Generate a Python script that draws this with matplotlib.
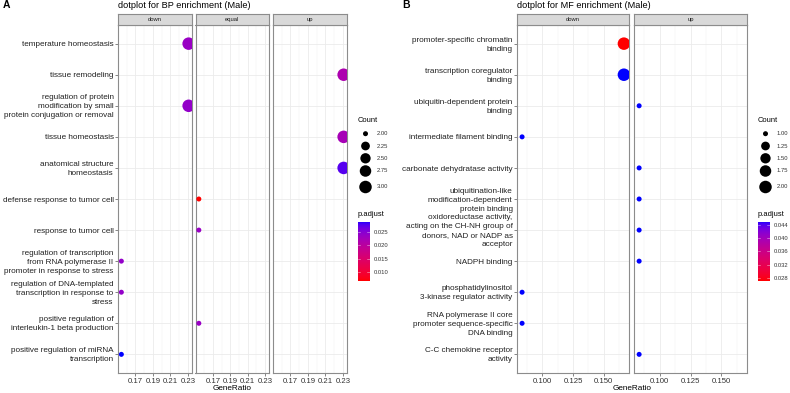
"""
Dot plots of GO enrichment (BP and MF, male) in facets by direction.
"""

import numpy as np
import matplotlib
matplotlib.use("Agg")
import matplotlib.pyplot as plt
from matplotlib.colors import ListedColormap, Normalize

plt.rcParams["font.family"] = ["Liberation Sans", "DejaVu Sans"]

# ---- data -------------------------------------------------------------
BP_TERMS = [
    "temperature homeostasis",
    "tissue remodeling",
    "regulation of protein\nmodification by small\nprotein conjugation or removal",
    "tissue homeostasis",
    "anatomical structure\nhomeostasis",
    "defense response to tumor cell",
    "response to tumor cell",
    "regulation of transcription\nfrom RNA polymerase II\npromoter in response to stress",
    "regulation of DNA-templated\ntranscription in response to\nstress",
    "positive regulation of\ninterleukin-1 beta production",
    "positive regulation of miRNA\ntranscription",
]
BP_GROUPS = ["down", "up", "down", "up", "up", "equal", "equal",
             "down", "down", "equal", "down"]
BP_COUNTS = [3, 3, 3, 3, 3, 2, 2, 2, 2, 2, 2]
BP_RATIOS = [3 / 13] * 5 + [2 / 13] * 6
BP_PADJ = [0.0235, 0.0215, 0.0240, 0.0222, 0.0275, 0.0066, 0.0235,
           0.0240, 0.0240, 0.0235, 0.0290]
BP_FACETS = ["down", "equal", "up"]
BP_XTICKS = [0.17, 0.19, 0.21, 0.23]
BP_XMINOR = [0.16, 0.18, 0.20, 0.22]
BP_CBAR_TICKS = [0.010, 0.015, 0.020, 0.025]

MF_TERMS = [
    "promoter-specific chromatin\nbinding",
    "transcription coregulator\nbinding",
    "ubiquitin-dependent protein\nbinding",
    "intermediate filament binding",
    "carbonate dehydratase activity",
    "ubiquitination-like\nmodification-dependent\nprotein binding",
    "oxidoreductase activity,\nacting on the CH-NH group of\ndonors, NAD or NADP as\nacceptor",
    "NADPH binding",
    "phosphatidylinositol\n3-kinase regulator activity",
    "RNA polymerase II core\npromoter sequence-specific\nDNA binding",
    "C-C chemokine receptor\nactivity",
]
MF_GROUPS = ["down", "down", "up", "down", "up", "up", "up", "up",
             "down", "down", "up"]
MF_COUNTS = [2, 2, 1, 1, 1, 1, 1, 1, 1, 1, 1]
MF_RATIOS = [c / 12 for c in MF_COUNTS]
MF_PADJ = [0.0270, 0.0451, 0.0451, 0.0451, 0.0451, 0.0451, 0.0451,
           0.0451, 0.0451, 0.0451, 0.0451]
MF_FACETS = ["down", "up"]
MF_XTICKS = [0.100, 0.125, 0.150]
MF_XMINOR = [0.0875, 0.1125, 0.1375, 0.1625]
MF_CBAR_TICKS = [0.028, 0.032, 0.036, 0.040, 0.044]

W, H = 790, 393
DPI = 100


def lab_red_blue(n=256):
    """ggplot-like red -> blue gradient interpolated in CIELAB."""
    white = np.array([0.95047, 1.0, 1.08883])
    m = np.array([[0.4124, 0.3576, 0.1805],
                  [0.2126, 0.7152, 0.0722],
                  [0.0193, 0.1192, 0.9505]])

    def to_lab(rgb):
        rgb = np.asarray(rgb, float)
        lin = np.where(rgb <= 0.04045, rgb / 12.92, ((rgb + 0.055) / 1.055) ** 2.4)
        t = (m @ lin) / white
        d = 6 / 29
        f = np.where(t > d ** 3, np.cbrt(t), t / (3 * d * d) + 4 / 29)
        return np.array([116 * f[1] - 16, 500 * (f[0] - f[1]), 200 * (f[1] - f[2])])

    def to_rgb(lab):
        d = 6 / 29
        fy = (lab[0] + 16) / 116
        f = np.array([fy + lab[1] / 500, fy, fy - lab[2] / 200])
        t = np.where(f > d, f ** 3, 3 * d * d * (f - 4 / 29)) * white
        lin = np.clip(np.linalg.solve(m, t), 0, 1)
        rgb = np.where(lin <= 0.0031308, 12.92 * lin, 1.055 * lin ** (1 / 2.4) - 0.055)
        return np.clip(rgb, 0, 1)

    lo, hi = to_lab([1, 0, 0]), to_lab([0, 0, 1])
    cols = [to_rgb(lo + (hi - lo) * s) for s in np.linspace(0, 1, n)]
    return ListedColormap(cols)


CMAP = lab_red_blue()


def box(x0, y0, x1, y1):
    return [x0 / W, 1 - y1 / H, (x1 - x0) / W, (y1 - y0) / H]


def dot_px(count, cmin, cmax):
    t = 0.0 if cmax == cmin else (count - cmin) / (cmax - cmin)
    return 5 + np.sqrt(t) * 7.5


def marker_area(d_px):
    return (d_px * 72 / DPI) ** 2


def draw_dotplot(fig, letter, title, panels, terms, groups, ratios, counts,
                 padj, facets, xticks, xminor, xfmt, legend_x, cbar_ticks):
    top, bottom, strip_top = 25, 373, 14
    n = len(terms)
    ratios = np.array(ratios)
    span = ratios.max() - ratios.min()
    xlim = (ratios.min() - 0.05 * span, ratios.max() + 0.05 * span)
    norm = Normalize(min(padj), max(padj))
    cmin, cmax = min(counts), max(counts)

    for i, (facet, (x0, x1)) in enumerate(zip(facets, panels)):
        ax = fig.add_axes(box(x0, top, x1, bottom))
        idx = [k for k, g in enumerate(groups) if g == facet]
        ax.scatter(ratios[idx], idx,
                   s=[marker_area(dot_px(counts[k], cmin, cmax)) for k in idx],
                   c=[padj[k] for k in idx], cmap=CMAP, norm=norm,
                   linewidths=0, zorder=3)
        ax.set_xlim(*xlim)
        ax.set_ylim(n - 0.4, -0.6)
        ax.set_xticks(xticks)
        ax.set_xticklabels([xfmt % t for t in xticks], fontsize=5.6,
                           color="#333333")
        ax.set_xticks(xminor, minor=True)
        ax.set_yticks(range(n))
        ax.tick_params(axis="x", which="major", length=2, width=0.5,
                       color="#555555", pad=1.5)
        ax.tick_params(axis="x", which="minor", length=0)
        ax.tick_params(axis="y", labelleft=False)
        if i == 0:
            ax.tick_params(axis="y", length=2.5, width=0.5, color="#555555")
            for k, term in enumerate(terms):
                ax.annotate(term, xy=(0, k),
                            xycoords=("axes fraction", "data"),
                            xytext=(-3.2, -0.8), textcoords="offset points",
                            ha="right", va="center", fontsize=5.9,
                            color="#222222", linespacing=1.4,
                            annotation_clip=False)
        else:
            ax.tick_params(axis="y", length=0)
        ax.grid(True, which="major", color="#EBEBEB", linewidth=0.6, zorder=0)
        ax.grid(True, which="minor", axis="x", color="#F2F2F2",
                linewidth=0.35, zorder=0)
        ax.set_axisbelow(True)
        for sp in ax.spines.values():
            sp.set_color("#8C8C8C")
            sp.set_linewidth(0.8)

        sax = fig.add_axes(box(x0, strip_top, x1, top))
        sax.set_facecolor("#D9D9D9")
        sax.set_xticks([])
        sax.set_yticks([])
        for sp in sax.spines.values():
            sp.set_color("#8C8C8C")
            sp.set_linewidth(0.8)
        sax.text(0.5, 0.5, facet, ha="center", va="center", fontsize=4.2,
                 color="#1A1A1A", transform=sax.transAxes)

    mid = (panels[0][0] + panels[-1][1]) / 2
    fig.text(mid / W, 1 - 389 / H, "GeneRatio", ha="center", va="center",
             fontsize=5.9)
    fig.text(panels[0][0] / W, 1 - 5 / H, title, ha="left", va="center",
             fontsize=6.6)
    fig.text(letter[1] / W, 1 - 5 / H, letter[0], ha="left", va="center",
             fontsize=7.5, fontweight="bold")

    # size legend
    lx = legend_x
    fig.text(lx / W, 1 - 120.7 / H, "Count", ha="left", va="center",
             fontsize=5.4)
    leg = fig.add_axes([0, 0, 1, 1], zorder=5)
    leg.set_xlim(0, W)
    leg.set_ylim(H, 0)
    leg.axis("off")
    keys = np.linspace(cmin, cmax, 5)
    key_y = [133.7, 146, 158.3, 171, 187]
    leg.scatter([lx + 8] * 5, key_y,
                s=[marker_area(dot_px(k, cmin, cmax)) for k in keys],
                c="black", linewidths=0)
    for k, y in zip(keys, key_y):
        leg.text(lx + 19, y, "%.2f" % k, ha="left", va="center",
                 fontsize=4.2, color="#333333")

    # colour legend
    fig.text(lx / W, 1 - 214.3 / H, "p.adjust", ha="left", va="center",
             fontsize=5.4)
    cax = fig.add_axes(box(lx + 0.5, 221.5, lx + 12, 281))
    vmin, vmax = norm.vmin, norm.vmax
    grad = np.linspace(vmin, vmax, 200).reshape(-1, 1)
    cax.imshow(grad, cmap=CMAP, norm=norm, aspect="auto", origin="lower",
               extent=[0, 1, vmin, vmax], interpolation="bilinear")
    cax.set_xlim(0, 1)
    cax.set_ylim(vmin, vmax)
    cax.set_xticks([])
    cax.yaxis.tick_right()
    cax.set_yticks(cbar_ticks)
    cax.set_yticklabels(["%.3f" % t for t in cbar_ticks])
    cax.tick_params(length=0, labelsize=4.2, labelcolor="#333333", pad=3)
    for sp in cax.spines.values():
        sp.set_visible(False)
    for t in cbar_ticks:
        cax.plot([0, 0.2], [t, t], color="white", linewidth=0.4, alpha=0.7)
        cax.plot([0.8, 1], [t, t], color="white", linewidth=0.4, alpha=0.7)


def main() -> None:
    fig = plt.figure(figsize=(W / DPI, H / DPI), dpi=DPI)
    fig.patch.set_facecolor("white")

    draw_dotplot(fig, ("A", 3), "dotplot for BP enrichment (Male)",
                 [(118, 192), (195.5, 269), (273, 347)],
                 BP_TERMS, BP_GROUPS, BP_RATIOS, BP_COUNTS, BP_PADJ,
                 BP_FACETS, BP_XTICKS, BP_XMINOR, "%.2f", 357.5,
                 BP_CBAR_TICKS)
    draw_dotplot(fig, ("B", 402), "dotplot for MF enrichment (Male)",
                 [(517, 629), (634, 747)],
                 MF_TERMS, MF_GROUPS, MF_RATIOS, MF_COUNTS, MF_PADJ,
                 MF_FACETS, MF_XTICKS, MF_XMINOR, "%.3f", 757.5,
                 MF_CBAR_TICKS)

    fig.savefig("out.png", dpi=DPI)


if __name__ == "__main__":
    main()
